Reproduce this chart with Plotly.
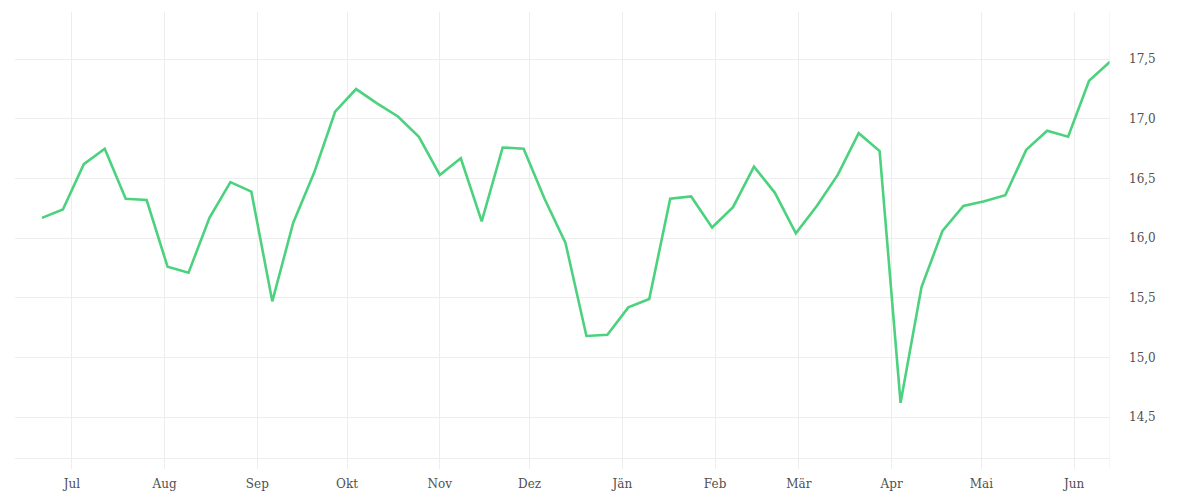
import plotly.graph_objects as go
import pandas as pd

dates = pd.date_range("2022-06-21", periods=52, freq="7D")
values = [16.17, 16.24, 16.62, 16.75, 16.33, 16.32, 15.76, 15.71, 16.17, 16.47,
          16.39, 15.47, 16.13, 16.55, 17.06, 17.25, 17.13, 17.02, 16.85, 16.53,
          16.67, 16.14, 16.76, 16.75, 16.33, 15.96, 15.18, 15.19, 15.42, 15.49,
          16.33, 16.35, 16.09, 16.26, 16.60, 16.38, 16.04, 16.27, 16.53, 16.88,
          16.73, 14.62, 15.59, 16.06, 16.27, 16.31, 16.36, 16.74, 16.90, 16.85,
          17.32, 17.48]

month_ticks = ["2022-07-01", "2022-08-01", "2022-09-01", "2022-10-01", "2022-11-01",
               "2022-12-01", "2023-01-01", "2023-02-01", "2023-03-01", "2023-04-01",
               "2023-05-01", "2023-06-01"]
month_labels = ["Jul", "Aug", "Sep", "Okt", "Nov", "Dez", "Jän", "Feb", "Mär", "Apr",
                "Mai", "Jun"]
y_ticks = [14.5, 15.0, 15.5, 16.0, 16.5, 17.0, 17.5]

grid = "#ededed"
fig = go.Figure()
fig.add_trace(go.Scatter(x=dates, y=values, mode="lines",
                         line=dict(color="#4cd27e", width=2.6), showlegend=False))

fig.update_layout(
    width=1184, height=484,
    margin=dict(l=7, r=82, t=4, b=34),
    paper_bgcolor="white", plot_bgcolor="white",
    separators=", ",
    font=dict(family="DejaVu Serif", size=12, color="#505050"),
)
fig.update_xaxes(
    range=["2022-06-12", "2023-06-13"],
    tickvals=month_ticks, ticktext=month_labels,
    showgrid=True, gridcolor=grid, gridwidth=1,
    ticks="outside", ticklen=10, tickcolor=grid, tickwidth=1,
    ticklabelstandoff=5, automargin=False,
    showline=True, linecolor=grid, linewidth=1,
    zeroline=False,
)
fig.update_yaxes(
    side="right",
    range=[14.157, 17.896],
    tickvals=y_ticks, tickformat=".1f",
    showgrid=True, gridcolor=grid, gridwidth=1,
    ticks="", ticklabelstandoff=18, automargin=False,
    showline=False, zeroline=False,
)
fig.add_shape(type="line", xref="x", yref="paper", x0="2023-06-13", x1="2023-06-13",
              y0=-0.0225, y1=1, line=dict(color=grid, width=1))
fig.write_html("out.html")
